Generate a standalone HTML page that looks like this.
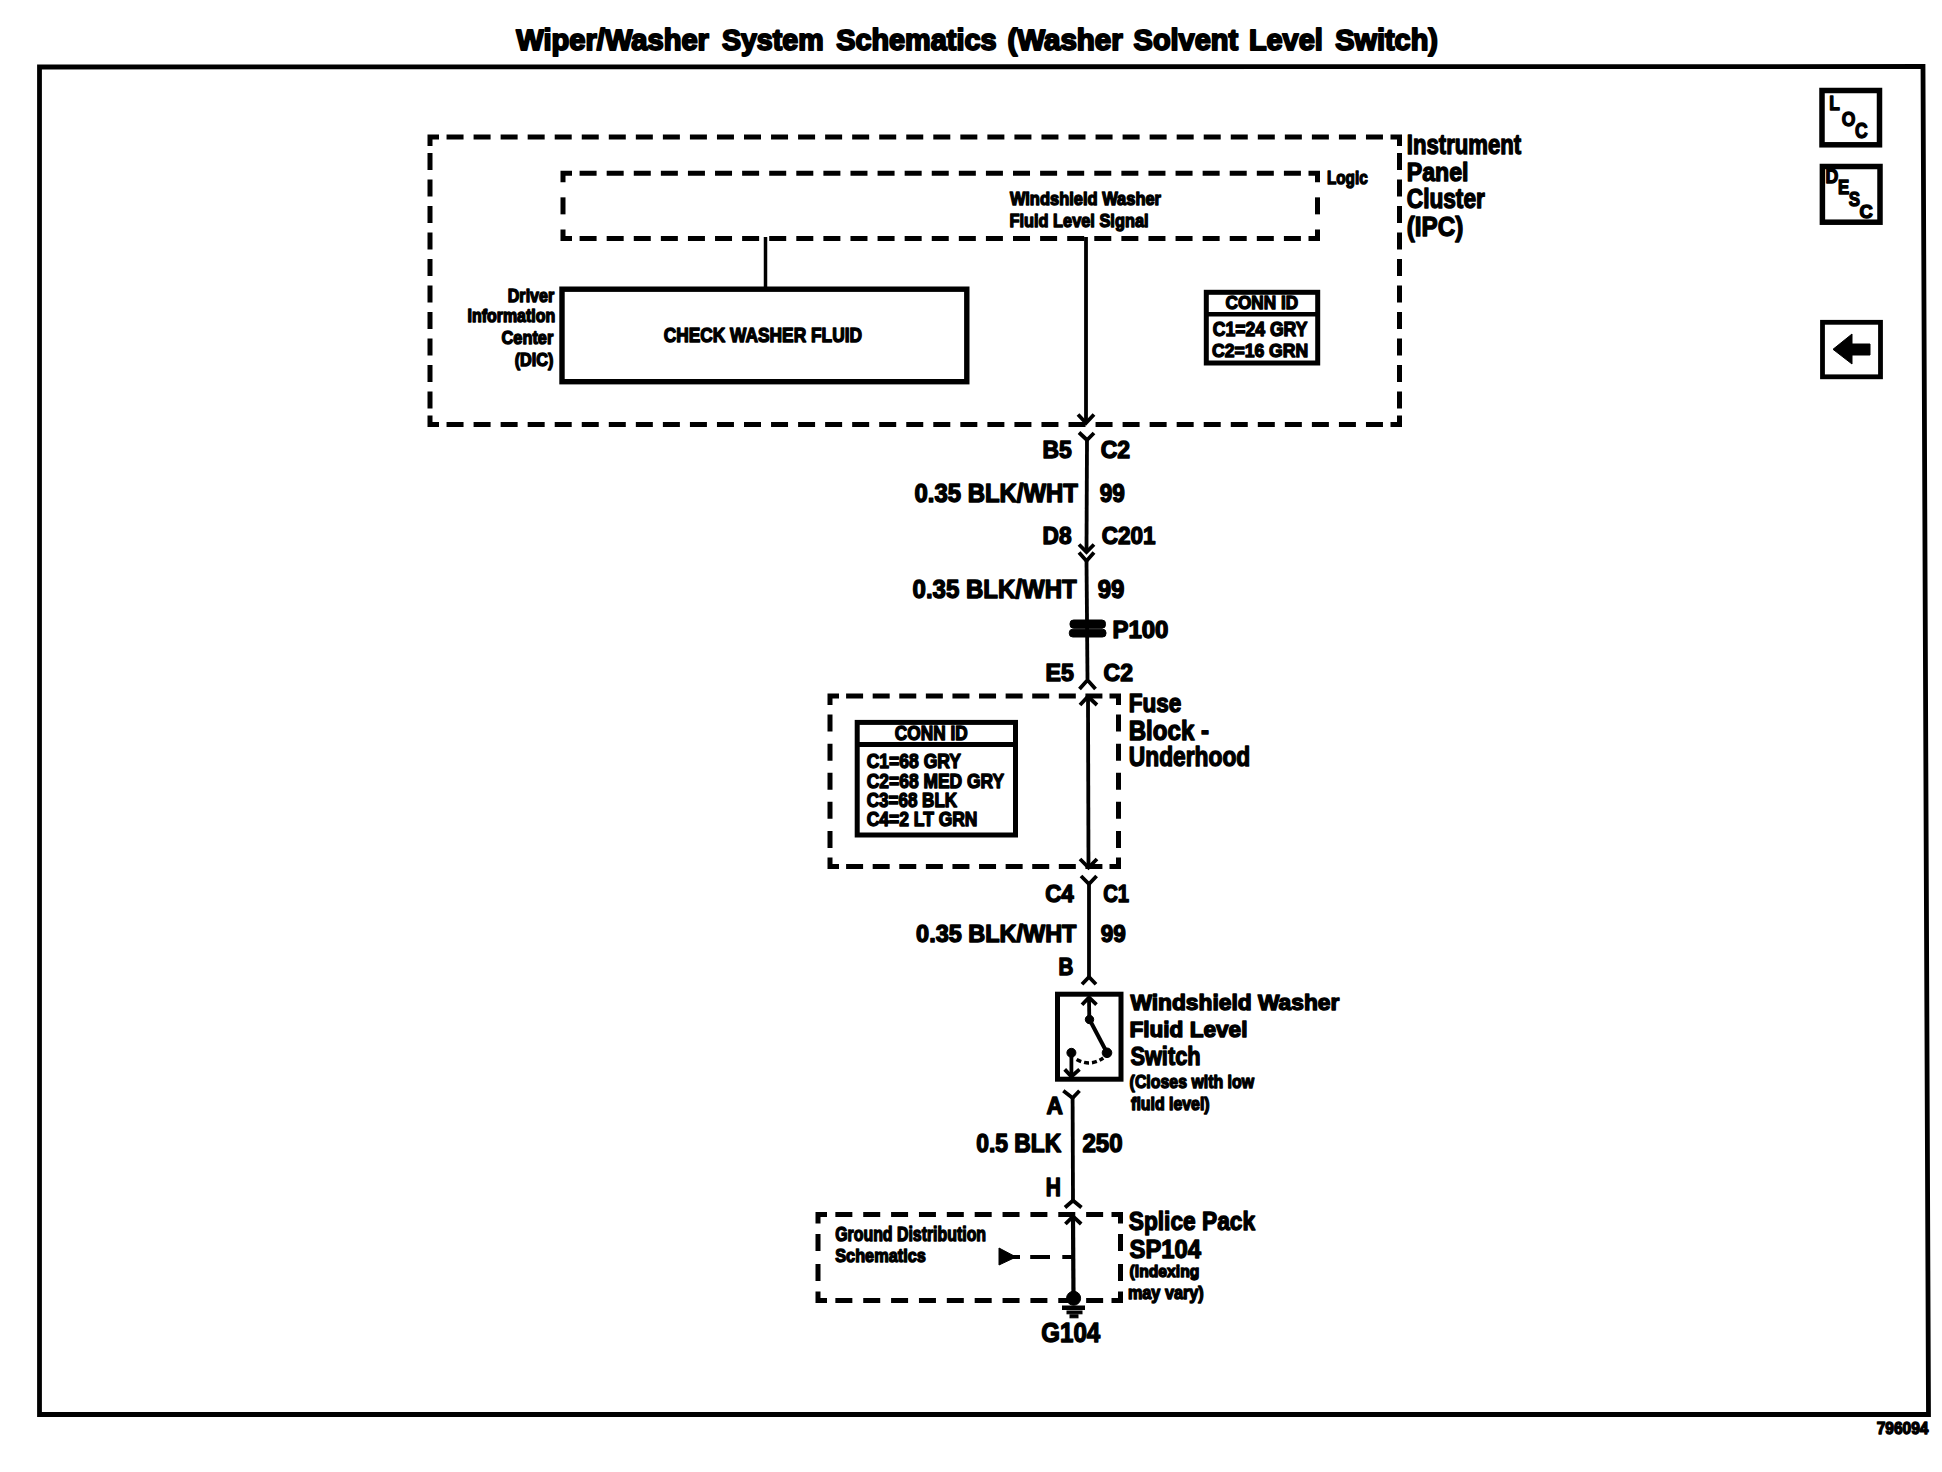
<!DOCTYPE html>
<html><head><meta charset="utf-8"><style>
html,body{margin:0;padding:0;background:#fff;width:1942px;height:1472px;overflow:hidden;}
svg{display:block;}
text{font-family:"Liberation Sans",sans-serif;font-weight:bold;fill:#000;stroke:#000;stroke-linejoin:round;}
</style></head><body>
<svg width="1942" height="1472" viewBox="0 0 1942 1472" stroke="#000" fill="#000">
<g>
<text transform="translate(516.30 49.50) scale(0.9576 1)" font-size="30.38" stroke-width="2.0">Wiper/Washer</text>
<text transform="translate(721.90 49.50) scale(0.9410 1)" font-size="30.38" stroke-width="2.0">System</text>
<text transform="translate(836.20 49.50) scale(0.9495 1)" font-size="30.38" stroke-width="2.0">Schematics</text>
<text transform="translate(1007.43 49.50) scale(0.9717 1)" font-size="30.38" stroke-width="2.0">(Washer</text>
<text transform="translate(1133.60 49.50) scale(0.9531 1)" font-size="30.38" stroke-width="2.0">Solvent</text>
<text transform="translate(1248.90 49.50) scale(0.9502 1)" font-size="30.38" stroke-width="2.0">Level</text>
<text transform="translate(1335.20 49.50) scale(0.9519 1)" font-size="30.38" stroke-width="2.0">Switch)</text>
<text transform="translate(1406.80 153.80) scale(0.8023 1)" font-size="27.62" stroke-width="1.4">Instrument</text>
<text transform="translate(1406.72 180.70) scale(0.8755 1)" font-size="26.45" stroke-width="1.4">Panel</text>
<text transform="translate(1406.76 208.00) scale(0.8433 1)" font-size="26.89" stroke-width="1.4">Cluster</text>
<text transform="translate(1406.74 236.10) scale(0.8600 1)" font-size="28.20" stroke-width="1.4">(IPC)</text>
<text transform="translate(1326.89 183.70) scale(0.8109 1)" font-size="18.90" stroke-width="1.4">Logic</text>
<text transform="translate(1009.90 205.30) scale(0.8999 1)" font-size="18.31" stroke-width="1.4">Windshield Washer</text>
<text transform="translate(1009.45 226.90) scale(0.8527 1)" font-size="19.19" stroke-width="1.4">Fluid Level Signal</text>
<text transform="translate(507.73 301.70) scale(0.8665 1)" font-size="18.60" stroke-width="1.4">Driver</text>
<text transform="translate(467.60 322.10) scale(0.8983 1)" font-size="17.73" stroke-width="1.4">Information</text>
<text transform="translate(501.50 343.80) scale(0.8797 1)" font-size="18.60" stroke-width="1.4">Center</text>
<text transform="translate(514.70 365.90) scale(0.8935 1)" font-size="18.17" stroke-width="1.4">(DIC)</text>
<text transform="translate(663.70 341.90) scale(0.8519 1)" font-size="20.35" stroke-width="1.4">CHECK WASHER FLUID</text>
<text transform="translate(1225.60 309.10) scale(0.8952 1)" font-size="19.19" stroke-width="1.4">CONN ID</text>
<text transform="translate(1212.70 336.20) scale(0.8970 1)" font-size="19.62" stroke-width="1.4">C1=24 GRY</text>
<text transform="translate(1212.00 356.70) scale(0.9153 1)" font-size="19.19" stroke-width="1.4">C2=16 GRN</text>
<text transform="translate(1042.54 457.60) scale(0.9621 1)" font-size="23.84" stroke-width="1.4">B5</text>
<text transform="translate(1100.70 457.60) scale(0.9633 1)" font-size="23.84" stroke-width="1.4">C2</text>
<text transform="translate(914.55 501.90) scale(0.9512 1)" font-size="25.15" stroke-width="1.4">0.35 BLK/WHT</text>
<text transform="translate(1099.70 501.90) scale(0.8973 1)" font-size="25.15" stroke-width="1.4">99</text>
<text transform="translate(1042.55 544.30) scale(0.9518 1)" font-size="23.84" stroke-width="1.4">D8</text>
<text transform="translate(1101.70 544.30) scale(0.9451 1)" font-size="23.84" stroke-width="1.4">C201</text>
<text transform="translate(912.59 598.30) scale(0.9085 1)" font-size="26.45" stroke-width="1.4">0.35 BLK/WHT</text>
<text transform="translate(1097.70 598.30) scale(0.9093 1)" font-size="26.45" stroke-width="1.4">99</text>
<text transform="translate(1112.39 637.80) scale(1.0121 1)" font-size="23.69" stroke-width="1.4">P100</text>
<text transform="translate(1045.53 681.10) scale(0.9716 1)" font-size="23.84" stroke-width="1.4">E5</text>
<text transform="translate(1103.60 681.10) scale(0.9633 1)" font-size="23.84" stroke-width="1.4">C2</text>
<text transform="translate(1128.73 711.80) scale(0.8679 1)" font-size="26.02" stroke-width="1.4">Fuse</text>
<text transform="translate(1128.71 739.80) scale(0.8866 1)" font-size="27.18" stroke-width="1.4">Block -</text>
<text transform="translate(1128.78 765.80) scale(0.8160 1)" font-size="27.91" stroke-width="1.4">Underhood</text>
<text transform="translate(894.80 739.80) scale(0.8552 1)" font-size="20.20" stroke-width="1.4">CONN ID</text>
<text transform="translate(866.70 767.90) scale(0.8998 1)" font-size="19.48" stroke-width="1.4">C1=68 GRY</text>
<text transform="translate(866.70 787.90) scale(0.8705 1)" font-size="20.06" stroke-width="1.4">C2=68 MED GRY</text>
<text transform="translate(866.70 806.90) scale(0.8818 1)" font-size="19.33" stroke-width="1.4">C3=68 BLK</text>
<text transform="translate(866.70 825.50) scale(0.9042 1)" font-size="19.33" stroke-width="1.4">C4=2 LT GRN</text>
<text transform="translate(1045.20 901.90) scale(0.9451 1)" font-size="23.69" stroke-width="1.4">C4</text>
<text transform="translate(1103.20 901.90) scale(0.8570 1)" font-size="23.69" stroke-width="1.4">C1</text>
<text transform="translate(916.10 942.20) scale(0.9848 1)" font-size="23.84" stroke-width="1.4">0.35 BLK/WHT</text>
<text transform="translate(1100.70 942.20) scale(0.9447 1)" font-size="23.84" stroke-width="1.4">99</text>
<text transform="translate(1058.53 975.30) scale(0.8687 1)" font-size="23.69" stroke-width="1.4">B</text>
<text transform="translate(1130.40 1009.70) scale(1.0314 1)" font-size="22.09" stroke-width="1.4">Windshield Washer</text>
<text transform="translate(1129.38 1036.90) scale(1.0240 1)" font-size="22.09" stroke-width="1.4">Fluid Level</text>
<text transform="translate(1130.40 1065.30) scale(0.8520 1)" font-size="25.58" stroke-width="1.4">Switch</text>
<text transform="translate(1129.60 1087.80) scale(0.8748 1)" font-size="18.17" stroke-width="1.4">(Closes with low</text>
<text transform="translate(1131.10 1109.80) scale(0.9039 1)" font-size="17.59" stroke-width="1.4">fluid level)</text>
<text transform="translate(1046.40 1113.90) scale(0.9588 1)" font-size="23.69" stroke-width="1.4">A</text>
<text transform="translate(976.20 1152.20) scale(0.9194 1)" font-size="24.86" stroke-width="1.4">0.5 BLK</text>
<text transform="translate(1082.50 1152.20) scale(0.9672 1)" font-size="24.86" stroke-width="1.4">250</text>
<text transform="translate(1045.86 1195.50) scale(0.8375 1)" font-size="25.00" stroke-width="1.4">H</text>
<text transform="translate(835.20 1241.00) scale(0.8096 1)" font-size="19.62" stroke-width="1.4">Ground Distribution</text>
<text transform="translate(835.20 1262.10) scale(0.8629 1)" font-size="18.90" stroke-width="1.4">Schematics</text>
<text transform="translate(1128.80 1230.20) scale(0.8542 1)" font-size="26.60" stroke-width="1.4">Splice Pack</text>
<text transform="translate(1129.60 1258.00) scale(0.8948 1)" font-size="26.60" stroke-width="1.4">SP104</text>
<text transform="translate(1129.60 1276.90) scale(0.9470 1)" font-size="16.57" stroke-width="1.4">(Indexing</text>
<text transform="translate(1127.88 1298.90) scale(0.9176 1)" font-size="17.73" stroke-width="1.4">may vary)</text>
<text transform="translate(1041.32 1341.90) scale(0.8772 1)" font-size="27.47" stroke-width="1.4">G104</text>
<text transform="translate(1876.70 1434.30) scale(0.9212 1)" font-size="16.86" stroke-width="1.4">796094</text>
<text transform="translate(1829.15 110.40) scale(0.8545 1)" font-size="20.20" stroke-width="1.4">L</text>
<text transform="translate(1841.80 125.70) scale(0.8375 1)" font-size="20.93" stroke-width="1.4">O</text>
<text transform="translate(1855.10 137.80) scale(0.8267 1)" font-size="21.22" stroke-width="1.4">C</text>
<text transform="translate(1825.62 183.30) scale(0.8846 1)" font-size="20.06" stroke-width="1.4">D</text>
<text transform="translate(1838.03 194.20) scale(0.8667 1)" font-size="19.48" stroke-width="1.4">E</text>
<text transform="translate(1848.70 205.50) scale(0.8143 1)" font-size="20.79" stroke-width="1.4">S</text>
<text transform="translate(1859.60 217.80) scale(0.9846 1)" font-size="18.60" stroke-width="1.4">C</text>
</g>
<path d="M39.5 67 L1923 66.5 L1928.5 1414.5 L39.5 1414.5 Z" fill="none" stroke-width="4.8"/>
<path d="M436.5 137 H430 V143.5 M1393.0 137 H1399.5 V143.5 M430 418.0 V424.5 H436.5 M1399.5 418.0 V424.5 H1393.0" stroke-width="5" fill="none" stroke-linecap="square"/>
<line x1="446.54" y1="137" x2="1382.96" y2="137" stroke-width="5" stroke-dasharray="17 10.042" stroke-dashoffset="0"/>
<line x1="446.54" y1="424.5" x2="1382.96" y2="424.5" stroke-width="5" stroke-dasharray="17 10.042" stroke-dashoffset="0"/>
<line x1="430" y1="153.0" x2="430" y2="408.5" stroke-width="5" stroke-dasharray="17 9.5" stroke-dashoffset="0"/>
<line x1="1399.5" y1="153.0" x2="1399.5" y2="408.5" stroke-width="5" stroke-dasharray="17 9.5" stroke-dashoffset="0"/>
<path d="M569.5 173.3 H563 V179.8 M1311.0 173.3 H1317.5 V179.8 M563 231.9 V238.4 H569.5 M1317.5 231.9 V238.4 H1311.0" stroke-width="5" fill="none" stroke-linecap="square"/>
<line x1="579.59" y1="173.3" x2="1300.91" y2="173.3" stroke-width="5" stroke-dasharray="17 10.089" stroke-dashoffset="0"/>
<line x1="579.59" y1="238.4" x2="1300.91" y2="238.4" stroke-width="5" stroke-dasharray="17 10.089" stroke-dashoffset="0"/>
<line x1="563" y1="197.35" x2="563" y2="214.35" stroke-width="5" stroke-dasharray="17 17.55" stroke-dashoffset="0"/>
<line x1="1317.5" y1="197.35" x2="1317.5" y2="214.35" stroke-width="5" stroke-dasharray="17 17.55" stroke-dashoffset="0"/>
<rect x="562" y="289.2" width="404.8" height="92.5" fill="none" stroke-width="5.4"/>
<line x1="765.5" y1="237" x2="765.5" y2="289" stroke-width="3.5"/>
<rect x="1206.3" y="292.3" width="111.4" height="70.7" fill="none" stroke-width="5"/>
<line x1="1206" y1="314.2" x2="1318" y2="314.2" stroke-width="4.5"/>
<line x1="1086" y1="237" x2="1086" y2="423" stroke-width="3.8"/>
<polyline points="1078,414.5 1086,423 1094,414.5" fill="none" stroke-width="3.8"/>
<polyline points="1079,432.5 1087,440 1094,433" fill="none" stroke-width="3.8"/>
<line x1="1087" y1="440" x2="1086.5" y2="551" stroke-width="3.8"/>
<polyline points="1079,544.5 1086.5,552 1094,544.5" fill="none" stroke-width="3.8"/>
<polyline points="1079,552.5 1086.5,561 1094,552.5" fill="none" stroke-width="3.8"/>
<line x1="1086.5" y1="561" x2="1087.5" y2="679" stroke-width="3.8"/>
<rect x="1070" y="620" width="35.5" height="8.2" rx="3.5" />
<rect x="1069.3" y="629.2" width="36.7" height="7.8" rx="3.5" />
<polyline points="1079.5,689 1087.5,680 1095.5,689" fill="none" stroke-width="3.8"/>
<path d="M836.5 696 H830 V702.5 M1112.0 696 H1118.5 V702.5 M830 860.0 V866.5 H836.5 M1118.5 860.0 V866.5 H1112.0" stroke-width="5" fill="none" stroke-linecap="square"/>
<line x1="846.09" y1="696" x2="1102.41" y2="696" stroke-width="5" stroke-dasharray="17 9.591" stroke-dashoffset="0"/>
<line x1="846.09" y1="866.5" x2="1102.41" y2="866.5" stroke-width="5" stroke-dasharray="17 9.591" stroke-dashoffset="0"/>
<line x1="830" y1="714.58" x2="830" y2="847.92" stroke-width="5" stroke-dasharray="17 12.083" stroke-dashoffset="0"/>
<line x1="1118.5" y1="714.58" x2="1118.5" y2="847.92" stroke-width="5" stroke-dasharray="17 12.083" stroke-dashoffset="0"/>
<rect x="857.2" y="722.4" width="158.3" height="112.6" fill="none" stroke-width="5"/>
<line x1="857" y1="744.5" x2="1016" y2="744.5" stroke-width="5"/>
<line x1="1088" y1="697" x2="1088.5" y2="867" stroke-width="3.8"/>
<polyline points="1080,705 1088,696.5 1097,705" fill="none" stroke-width="3.8"/>
<polyline points="1080,859 1088.5,867.5 1097,859" fill="none" stroke-width="3.8"/>
<polyline points="1081,876 1089,884 1096.6,876" fill="none" stroke-width="3.8"/>
<line x1="1089" y1="884" x2="1089" y2="977" stroke-width="3.8"/>
<polyline points="1082,984.3 1089,977 1096,984.3" fill="none" stroke-width="3.8"/>
<rect x="1057.5" y="994.2" width="63.5" height="85" fill="none" stroke-width="5"/>
<polyline points="1082,1004.7 1089,997.5 1096.5,1004.7" fill="none" stroke-width="3.8"/>
<line x1="1089" y1="998" x2="1089.3" y2="1019.5" stroke-width="3.8"/>
<circle cx="1089.5" cy="1019.5" r="4.2"/>
<line x1="1089.5" y1="1019.5" x2="1107" y2="1052.8" stroke-width="4"/>
<circle cx="1107" cy="1052.8" r="4.8"/>
<circle cx="1071.4" cy="1052.8" r="4.5"/>
<line x1="1071.4" y1="1052" x2="1071.4" y2="1076.5" stroke-width="3.8"/>
<polyline points="1064.7,1069.4 1071.4,1076.5 1079.5,1069.4" fill="none" stroke-width="3.8"/>
<path d="M1076.6 1059.4 Q1090 1067 1103.3 1058" fill="none" stroke-width="3.5" stroke-dasharray="5 3"/>
<polyline points="1063.3,1090.8 1072.6,1098 1079.5,1090.8" fill="none" stroke-width="3.8"/>
<line x1="1072.6" y1="1098" x2="1073" y2="1200.5" stroke-width="3.8"/>
<polyline points="1065,1207.5 1073,1200.5 1081.5,1207.5" fill="none" stroke-width="3.8"/>
<path d="M824.5 1214.5 H818 V1221.0 M1114.0 1214.5 H1120.5 V1221.0 M818 1293.9 V1300.4 H824.5 M1120.5 1293.9 V1300.4 H1114.0" stroke-width="5" fill="none" stroke-linecap="square"/>
<line x1="835.36" y1="1214.5" x2="1103.14" y2="1214.5" stroke-width="5" stroke-dasharray="17 10.864" stroke-dashoffset="0"/>
<line x1="835.36" y1="1300.4" x2="1103.14" y2="1300.4" stroke-width="5" stroke-dasharray="17 10.864" stroke-dashoffset="0"/>
<line x1="818" y1="1233.97" x2="818" y2="1280.93" stroke-width="5" stroke-dasharray="17 12.967" stroke-dashoffset="0"/>
<line x1="1120.5" y1="1233.97" x2="1120.5" y2="1280.93" stroke-width="5" stroke-dasharray="17 12.967" stroke-dashoffset="0"/>
<polyline points="1065.4,1224 1073,1216.3 1081.2,1224" fill="none" stroke-width="3.8"/>
<line x1="1073" y1="1217" x2="1073.5" y2="1298" stroke-width="4.2"/>
<circle cx="1073.6" cy="1298.3" r="7"/>
<rect x="1062.5" y="1306" width="22" height="3.5"/>
<rect x="1067" y="1311" width="15" height="2.8"/>
<rect x="1070" y="1314.8" width="8" height="3"/>
<path d="M999 1248 L999 1265 L1016 1257 Z"/>
<line x1="1010" y1="1257" x2="1020" y2="1257" stroke-width="4"/>
<line x1="1030.2" y1="1257" x2="1050" y2="1257" stroke-width="4"/>
<line x1="1062.3" y1="1257" x2="1073" y2="1257" stroke-width="4"/>
<rect x="1822" y="90.5" width="57.5" height="54.3" fill="none" stroke-width="5.5"/>
<rect x="1822.4" y="166.5" width="57.6" height="55.7" fill="none" stroke-width="5.5"/>
<rect x="1822.5" y="322.3" width="58" height="54.5" fill="none" stroke-width="4.8"/>
<path d="M1833 349.3 L1852 334 L1852 344 L1870 344 L1870 355 L1852 355 L1852 364 Z"/>
</svg>
</body></html>
